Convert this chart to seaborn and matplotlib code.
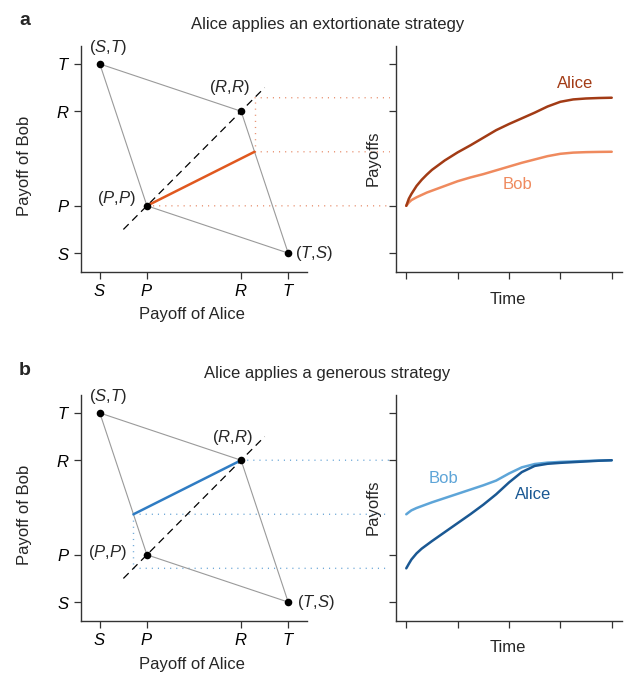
import matplotlib
matplotlib.use("Agg")
import matplotlib.pyplot as plt
import seaborn as sns
import numpy as np
import pandas as pd
from matplotlib.patches import ConnectionPatch

# ---------------- data ----------------
payoff_ticks = [0, 1, 3, 4]                 # S, P, R, T
payoff_tick_labels = ["$S$", "$P$", "$R$", "$T$"]

vertex_x = [0, 3, 4, 1]                     # (S,T) (R,R) (T,S) (P,P)
vertex_y = [4, 3, 0, 1]
vertex_labels = ["($S$,$T$)", "($R$,$R$)", "($T$,$S$)", "($P$,$P$)"]

diag_x = [0.5, 3.5]
diag_y = [0.5, 3.5]

# strategy segments in payoff space
extort_x = [1.0, 3.286]
extort_y = [1.0, 2.143]
generous_x = [3.0, 0.714]
generous_y = [3.0, 1.857]

time_ticks = [0, 1, 2, 3, 4]
t = [0, 0.05, 0.1, 0.2, 0.3, 0.4, 0.5, 0.75, 1.0, 1.25, 1.5, 1.75, 2.0,
     2.25, 2.5, 2.75, 3.0, 3.25, 3.5, 3.75, 4.0]
alice_extort = [1.00, 1.15, 1.25, 1.42, 1.55, 1.66, 1.76, 1.96, 2.13, 2.28,
                2.44, 2.60, 2.73, 2.85, 2.97, 3.10, 3.20, 3.25, 3.27, 3.28, 3.286]
bob_extort = [1.00, 1.07, 1.12, 1.18, 1.23, 1.28, 1.32, 1.42, 1.52, 1.60,
              1.67, 1.75, 1.83, 1.91, 1.98, 2.05, 2.10, 2.125, 2.135, 2.14, 2.143]
alice_generous = [0.714, 0.81, 0.90, 1.03, 1.13, 1.21, 1.29, 1.48, 1.67, 1.86,
                  2.06, 2.28, 2.53, 2.75, 2.88, 2.925, 2.945, 2.96, 2.975, 2.99, 3.0]
bob_generous = [1.857, 1.90, 1.94, 1.99, 2.03, 2.07, 2.11, 2.20, 2.29, 2.38,
                2.47, 2.57, 2.72, 2.85, 2.92, 2.95, 2.965, 2.975, 2.985, 2.993, 3.0]

# ---------------- style ----------------
sns.set_theme(style="ticks")
plt.rcParams["font.family"] = ["Liberation Sans", "DejaVu Sans"]
plt.rcParams["mathtext.fontset"] = "custom"
plt.rcParams["mathtext.rm"] = "Liberation Sans"
plt.rcParams["mathtext.it"] = "Liberation Sans:italic"
plt.rcParams["mathtext.bf"] = "Liberation Sans:bold"

FS = 12
W, H = 624, 676
fig = plt.figure(figsize=(W / 100, H / 100), dpi=100)


def frac_box(x0, y0, x1, y1):
    return [x0 / W, 1 - y1 / H, (x1 - x0) / W, (y1 - y0) / H]


panels = [
    dict(top=46, bottom=272, letter="a", title="Alice applies an extortionate strategy",
         title_y=29, letter_y=25,
         seg_x=extort_x, seg_y=extort_y, seg_color="#e0581f",
         dot_color="#e89272",
         alice=alice_extort, bob=bob_extort,
         alice_color="#a23b15", bob_color="#ef8a5e",
         alice_lab=(3.28, 3.58), bob_lab=(2.17, 1.45),
         lab_offsets=[(8, 16, "center"), (-12, 24, "center"), (7, 0, "left"), (-30, 7, "center")]),
    dict(top=395, bottom=621, letter="b", title="Alice applies a generous strategy",
         title_y=378, letter_y=375,
         seg_x=generous_x, seg_y=generous_y, seg_color="#2f7cc3",
         dot_color="#6fa9d8",
         alice=alice_generous, bob=bob_generous,
         alice_color="#1a5893", bob_color="#5ea5d8",
         alice_lab=(2.47, 2.28), bob_lab=(0.72, 2.62),
         lab_offsets=[(8, 16, "center"), (-9, 23, "center"), (9, 0, "left"), (-20, 2, "right")]),
]

axis_col = "#333333"
dot_ls = (0, (0.8, 3.6))

for p in panels:
    axL = fig.add_axes(frac_box(81, p["top"], 307, p["bottom"]))
    axR = fig.add_axes(frac_box(396, p["top"], 622, p["bottom"]))
    for ax in (axL, axR):
        ax.patch.set_alpha(0)

    # ---- payoff space ----
    poly_x = vertex_x + vertex_x[:1]
    poly_y = vertex_y + vertex_y[:1]
    axL.plot(poly_x, poly_y, color="#9a9a9a", lw=0.8, zorder=1)
    sns.lineplot(x=diag_x, y=diag_y, ax=axL, color="black", lw=0.9,
                 linestyle=(0, (6, 4)), zorder=2)
    sns.lineplot(x=p["seg_x"], y=p["seg_y"], ax=axL, color=p["seg_color"],
                 lw=1.8, zorder=3, sort=False)
    sns.scatterplot(x=vertex_x, y=vertex_y, ax=axL, color="black", s=30,
                    edgecolor="black", linewidth=0, zorder=4)
    for vx, vy, lab, (dx, dy, ha) in zip(vertex_x, vertex_y, vertex_labels, p["lab_offsets"]):
        axL.annotate(lab, (vx, vy), xytext=(dx, dy), textcoords="offset pixels",
                     ha=ha, va="center", fontsize=FS, annotation_clip=False)

    axL.set_xlim(-0.4, 4.4)
    axL.set_ylim(-0.4, 4.38)
    axL.set_xticks(payoff_ticks)
    axL.set_xticklabels(payoff_tick_labels)
    axL.set_yticks(payoff_ticks)
    axL.set_yticklabels(payoff_tick_labels)

    # dotted projection lines
    xe, ye = p["seg_x"][-1], p["seg_y"][-1]
    xs, ys = p["seg_x"][0], p["seg_y"][0]
    axL.plot([xe, xe], [ye, xe], color=p["dot_color"], lw=1.0, linestyle=dot_ls,
             zorder=1, dash_capstyle="butt")
    for (px_, py_) in [(xe, ye), (xe, xe), (xs, ys)]:
        con = ConnectionPatch(xyA=(px_, py_), coordsA=axL.transData,
                              xyB=(-0.027, py_), coordsB=axR.get_yaxis_transform(),
                              color=p["dot_color"], lw=1.0, linestyle=dot_ls,
                              capstyle="butt", zorder=-1)
        fig.add_artist(con)

    # ---- time series ----
    df = pd.DataFrame({"t": t, "Alice": p["alice"], "Bob": p["bob"]})
    sns.lineplot(data=df, x="t", y="Bob", ax=axR, color=p["bob_color"], lw=1.8)
    sns.lineplot(data=df, x="t", y="Alice", ax=axR, color=p["alice_color"], lw=1.8)
    axR.text(*p["alice_lab"], "Alice", color=p["alice_color"], fontsize=FS,
             ha="center", va="center")
    axR.text(*p["bob_lab"], "Bob", color=p["bob_color"], fontsize=FS,
             ha="center", va="center")
    axR.set_xlim(-0.2, 4.2)
    axR.set_ylim(-0.4, 4.38)
    axR.set_xticks(time_ticks)
    axR.set_xticklabels([])
    axR.set_yticks(payoff_ticks)
    axR.set_yticklabels([])

    for ax in (axL, axR):
        sns.despine(ax=ax)
        for s in ("left", "bottom"):
            ax.spines[s].set_color(axis_col)
            ax.spines[s].set_linewidth(1.0)
        ax.tick_params(axis="both", length=5, width=0.9, color=axis_col,
                       labelsize=FS, pad=3, labelcolor="black")
        ax.set_xlabel("")
        ax.set_ylabel("")

    # axis labels & titles placed in figure pixels
    mid_y = (p["top"] + p["bottom"]) / 2
    fig.text(25 / W, 1 - (mid_y + 7) / H, "Payoff of Bob", rotation=90,
             ha="center", va="center", fontsize=FS)
    fig.text(192 / W, 1 - (p["bottom"] + 43) / H, "Payoff of Alice",
             ha="center", va="center", fontsize=FS)
    fig.text(373 / W, 1 - (mid_y - 1) / H, "Payoffs", rotation=90,
             ha="center", va="center", fontsize=FS)
    fig.text(508 / W, 1 - (p["bottom"] + 27) / H, "Time",
             ha="center", va="center", fontsize=FS)
    fig.text(327.5 / W, 1 - p["title_y"] / H, p["title"], ha="center",
             va="baseline", fontsize=FS)
    fig.text(25 / W, 1 - p["letter_y"] / H, p["letter"], ha="center",
             va="baseline", fontsize=14, fontweight="bold")

fig.savefig("out.png", dpi=100)
